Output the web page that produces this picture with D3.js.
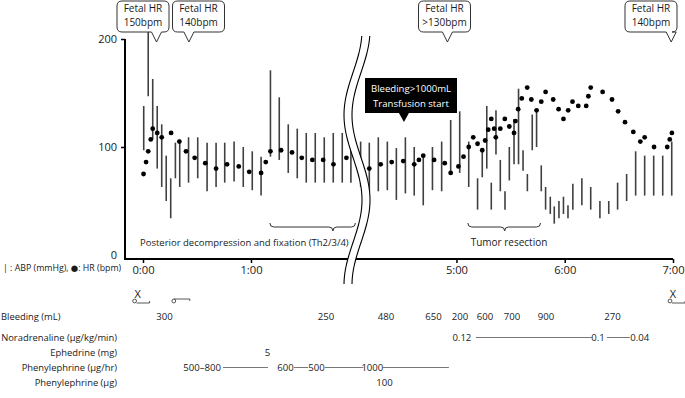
<!DOCTYPE html>
<html><head><meta charset="utf-8">
<script src="https://cdn.jsdelivr.net/npm/d3@7"></script>
<style>
body{margin:0;background:#fff}
svg{font-family:"Open Sans","Noto Sans",sans-serif;display:block}
</style>
</head><body>
<svg id="c" width="685" height="398"></svg>
<script>
// ---- data (time in minutes from start) ----
const abpTime = [0.4,2.9,5.4,7.9,10.4,12.9,15.4,18,20.4,25.3,30.4,35.6,40.6,45.4,50.6,55.7,60.7,65.6,70.8,75.7,80.7,85.7,90.7,95.7,100.7,105.7,110.7,115.5,
  246.9,251.7,256.7,261.7,266.7,271.7,276.6,281.6,286.7,291.8,296.8,301.8,306.8,311.7,314.3,316.8,319.3,321.9,324.3,326.9,329.3,331.9,334.4,336.9,339.3,342,344.4,347,349.4,352,354.2,356.8,359.3,361.8,364.5,369.5,374.4,379.5,384.4,389.3,394.3,399.3,404.3,409.3,414.3,419.3];
const abpHigh = [138,208,163,138,121,92,71,104,107,109,109,104,104,104,105,100,96,91,171,146,121,117,113,113,109,113,113,109,
  105,104,109,105,99,109,100,92,100,105,125,133,105,71,97,138,67,134,88,59,100,126,154,97,75,130,134,83,63,54,45,50,54,46,66,71,63,50,50,67,75,96,92,92,92,105];
const abpLow = [97,147,107,80,63,50,34,71,63,67,71,59,63,67,68,63,60,55,91,88,76,71,67,67,67,67,67,67,
  63,59,59,60,51,57,55,46,60,59,76,76,63,42,72,80,42,93,59,42,69,84,84,78,59,97,100,59,42,38,29,34,38,34,42,46,42,34,38,42,50,55,55,55,55,55];
const hrTime = [0.3,1.7,2.9,4.3,5.4,7.9,10.4,15.6,20.2,23.9,28.7,34.6,40.6,46.7,53.2,59,65.6,68.2,70.8,76.7,82.8,88.2,94.1,100.1,105.8,113,
  251.7,258,264.1,270.5,276.6,279.2,281.6,287.6,293.5,296.8,301.1,303.9,306.8,309.3,311.7,314.3,315.9,317.6,319.3,320.9,321.8,324.3,326.8,329.3,331.9,332.7,334.2,336.2,339.2,341.5,344.4,347,349.4,353.6,356.6,359.3,361.9,364.3,367.5,371.9,373.1,374.4,381,386.2,389.6,393.4,398,401.9,404.3,409.5,416.8,418.2,419.4];
const hrValue = [75,86,96,107,117,113,109,113,105,96,90,85,80,84,82,77,76,86,96,97,95,90,88,88,84,90,
  80,84,86,87,84,88,92,88,85,76,82,91,100,109,103,97,106,116,126,117,109,117,126,119,113,124,135,145,155,144,134,142,151,144,135,126,134,142,138,138,147,155,151,144,133,123,114,105,109,100,100,107,113];

const yTickValues = [0,100,200];
const xTickMinutes = [0,60,300,360,420];
const xTickLabels = ["0:00","1:00","5:00","6:00","7:00"];

const bleedTime = [12,101.7,261,287.3,302,315.8,330.8,349.6,386.5];
const bleedLabel = ["300","250","480","650","200","600","700","900","270"];
const noradTime = [303,378.4,401.6];
const noradLabel = ["0.12","0.1","0.04"];
const noradLines = [[310.8,375.6],[383.4,396.1]];
const ephedTime = [69.2];
const ephedLabel = ["5"];
const pheHrTime = [32.8,79.2,96.4,253.4];
const pheHrLabel = ["500\u2013800","600","500","1000"];
const pheHrLines = [[44.4,69.4],[83.9,91.7],[101,248.4],[259.3,295.8]];
const pheTime = [260.1];
const pheLabel = ["100"];

const rowLabels = ["Bleeding (mL)","Noradrenaline (\u00b5g/kg/min)","Ephedrine (mg)","Phenylephrine (\u00b5g/hr)","Phenylephrine (\u00b5g)"];

const calloutText = [["Fetal HR","150bpm"],["Fetal HR","140bpm"],["Fetal HR",">130bpm"],["Fetal HR","140bpm"]];
const calloutTime = [7.5,25.5,295,419];
const eventText = ["Bleeding>1000mL","Transfusion start"];
const eventTime = [270.9];
const phaseText = ["Posterior decompression and fixation (Th2/3/4)","Tumor resection"];
const phaseStart = [70.5,306.3];
const phaseEnd = [176.3,346.6];
const phaseMid = [105.5,326.7];
const xMarkTime = [-3,420];
const clampTime = [21];

// ---- scales ----
const svg = d3.select("#c");
const x = d3.scaleLinear().domain([0,118,244,420]).range([143,355.4,355.4,673]);
const y = d3.scaleLinear().domain([0,200]).range([255,39]);
const AX_Y = 259, AX_X = 125;
const TXT = "#1a1a1a";

// ---- bars (ABP) ----
svg.append("g").selectAll("line").data(abpTime.map((t,i)=>i)).join("line")
  .attr("x1",i=>x(abpTime[i])).attr("x2",i=>x(abpTime[i]))
  .attr("y1",i=>y(abpHigh[i])).attr("y2",i=>y(abpLow[i]))
  .attr("stroke","#404040").attr("stroke-width",1.6);

// ---- dots (HR) ----
svg.append("g").selectAll("circle").data(hrTime.map((t,i)=>i)).join("circle")
  .attr("cx",i=>x(hrTime[i])).attr("cy",i=>y(hrValue[i])).attr("r",2.4).attr("fill","#000");

// ---- axes ----
const yAxis = svg.append("g").attr("transform",`translate(${AX_X},0)`)
  .call(d3.axisLeft(y).tickValues(yTickValues).tickSize(4).tickPadding(4));
yAxis.select(".domain").remove();
yAxis.selectAll(".tick line").attr("stroke","#000").attr("stroke-width",1.5)
  .filter(d=>d===0).remove();
yAxis.selectAll("text").attr("font-size",11).attr("font-family","'Open Sans'").attr("fill",TXT);
svg.append("line").attr("x1",AX_X).attr("x2",AX_X).attr("y1",y(200)).attr("y2",AX_Y)
  .attr("stroke","#000").attr("stroke-width",2);

const xAxis = svg.append("g").attr("transform",`translate(0,${AX_Y})`)
  .call(d3.axisBottom(x).tickValues(xTickMinutes).tickFormat((d,i)=>xTickLabels[i]).tickSize(4).tickPadding(3));
xAxis.select(".domain").remove();
xAxis.selectAll(".tick line").attr("stroke","#000").attr("stroke-width",1.5);
xAxis.selectAll("text").attr("font-size",11.2).attr("font-family","'Open Sans'").attr("fill",TXT);
svg.append("line").attr("x1",AX_X-1).attr("x2",x(420)).attr("y1",AX_Y).attr("y2",AX_Y)
  .attr("stroke","#000").attr("stroke-width",2);

// ---- axis break (decorative wave) ----
const waveYs = d3.range(36,285,2);
const cxw = yy => 357 - 9*Math.cos(2*Math.PI*(yy-115)/170);
const leftPts = waveYs.map(yy=>[cxw(yy)-4,yy]);
const rightPts = waveYs.map(yy=>[cxw(yy)+4,yy]);
const ln = d3.line().curve(d3.curveBasis);
svg.append("path").attr("d", ln(leftPts)+"L"+ln(rightPts.slice().reverse()).slice(1)+"Z").attr("fill","#fff");
svg.append("path").attr("d",ln(leftPts)).attr("fill","none").attr("stroke","#000").attr("stroke-width",1.1);
svg.append("path").attr("d",ln(rightPts)).attr("fill","none").attr("stroke","#000").attr("stroke-width",1.1);

// ---- phase braces ----
const BY = 227;
phaseText.forEach((txt,i)=>{
  const a=x(phaseStart[i]), b=x(phaseEnd[i]), m=x(phaseMid[i]);
  const p = `M${a},${BY-4} Q${a},${BY} ${a+4},${BY} L${m-4},${BY} Q${m},${BY} ${m},${BY+4} Q${m},${BY} ${m+4},${BY} L${b-4},${BY} Q${b},${BY} ${b},${BY-4}`;
  svg.append("path").attr("d",p).attr("fill","none").attr("stroke","#333").attr("stroke-width",1);
});
svg.append("text").attr("x",140).attr("y",242).attr("dominant-baseline","central")
  .attr("font-size",9.5).attr("fill",TXT).text(phaseText[0]);
svg.append("text").attr("x",509).attr("y",242).attr("text-anchor","middle").attr("dominant-baseline","central")
  .attr("font-size",10).attr("fill",TXT).text(phaseText[1]);

// ---- legend ----
{
  const lg = svg.append("text").attr("x",3).attr("y",267.5).attr("dominant-baseline","central")
    .attr("font-size",8.8).attr("fill",TXT);
  lg.append("tspan").text("| : ABP (mmHg), ");
  lg.append("tspan").attr("font-family","'DejaVu Sans'").attr("font-size",8.5).text("\u25cf");
  lg.append("tspan").text(": HR (bpm)");
}

// ---- fetal HR callouts ----
const boxW = 52, boxTop = 1, boxBot = 32, tipY = 42, rr = 5;
const boxLeft = [117,172.5,418.5,625];
calloutText.forEach((lines,i)=>{
  const tx = x(calloutTime[i]);
  const x0 = boxLeft[i], x1 = x0+boxW;
  const p = `M${x0+rr},${boxTop} H${x1-rr} Q${x1},${boxTop} ${x1},${boxTop+rr} V${boxBot-rr} Q${x1},${boxBot} ${x1-rr},${boxBot} H${tx+5} L${tx},${tipY} L${tx-5},${boxBot} H${x0+rr} Q${x0},${boxBot} ${x0},${boxBot-rr} V${boxTop+rr} Q${x0},${boxTop} ${x0+rr},${boxTop} Z`;
  svg.append("path").attr("d",p).attr("fill","#fff").attr("stroke","#333").attr("stroke-width",1);
  lines.forEach((s,j)=>svg.append("text").attr("x",(x0+x1)/2).attr("y",12.3+j*13.6)
    .attr("text-anchor","middle").attr("font-size",10).attr("fill",TXT).text(s));
});

// ---- event callout (black) ----
{
  const tx = x(eventTime[0]);
  const x0 = 365, x1 = 457, t0 = 78, b0 = 113;
  svg.append("path").attr("d",`M${x0},${t0} H${x1} V${b0} H${tx+5} L${tx},${b0+9} L${tx-5},${b0} H${x0} Z`).attr("fill","#000");
  eventText.forEach((s,j)=>svg.append("text").attr("x",(x0+x1)/2).attr("y",91.5+j*15.5)
    .attr("text-anchor","middle").attr("font-size",9.6).attr("fill","#fff").text(s));
}

// ---- event marks under axis ----
xMarkTime.forEach(t=>{
  const cxm = x(t);
  svg.append("text").attr("x",cxm).attr("y",293.5).attr("text-anchor","middle").attr("dominant-baseline","central")
    .attr("font-size",11).attr("fill",TXT).text("X");
  svg.append("circle").attr("cx",cxm-3).attr("cy",301).attr("r",1.9).attr("fill","none").attr("stroke","#444").attr("stroke-width",0.9);
  svg.append("path").attr("d",`M${cxm-1},303 H${cxm+12} V301`).attr("fill","none").attr("stroke","#444").attr("stroke-width",0.9);
});
clampTime.forEach(t=>{
  const cxm = x(t);
  svg.append("circle").attr("cx",cxm-7).attr("cy",301).attr("r",1.9).attr("fill","none").attr("stroke","#444").attr("stroke-width",0.9);
  svg.append("path").attr("d",`M${cxm-7},299 H${cxm+9} V301`).attr("fill","none").attr("stroke","#444").attr("stroke-width",0.9);
});

// ---- table rows ----
const rowY = [316,337,352,367.5,382.5];
svg.append("text").attr("x",1).attr("y",rowY[0]).attr("dominant-baseline","central")
  .attr("font-size",9.4).attr("fill",TXT).text(rowLabels[0]);
rowLabels.slice(1).forEach((s,i)=>svg.append("text").attr("x",117).attr("y",rowY[i+1])
  .attr("text-anchor","end").attr("dominant-baseline","central").attr("font-size",9.4).attr("fill",TXT).text(s));

function rowValues(times,labels,yy){
  times.forEach((t,i)=>svg.append("text").attr("x",x(t)).attr("y",yy).attr("text-anchor","middle")
    .attr("dominant-baseline","central").attr("font-size",9.6).attr("fill",TXT).text(labels[i]));
}
function rowLines(segs,yy){
  segs.forEach(s=>svg.append("line").attr("x1",x(s[0])).attr("x2",x(s[1])).attr("y1",yy).attr("y2",yy)
    .attr("stroke","#777").attr("stroke-width",1));
}
rowValues(bleedTime,bleedLabel,rowY[0]);
rowValues(noradTime,noradLabel,rowY[1]); rowLines(noradLines,rowY[1]+0.5);
rowValues(ephedTime,ephedLabel,rowY[2]);
rowValues(pheHrTime,pheHrLabel,rowY[3]); rowLines(pheHrLines,rowY[3]);
rowValues(pheTime,pheLabel,rowY[4]);
</script>
</body></html>
